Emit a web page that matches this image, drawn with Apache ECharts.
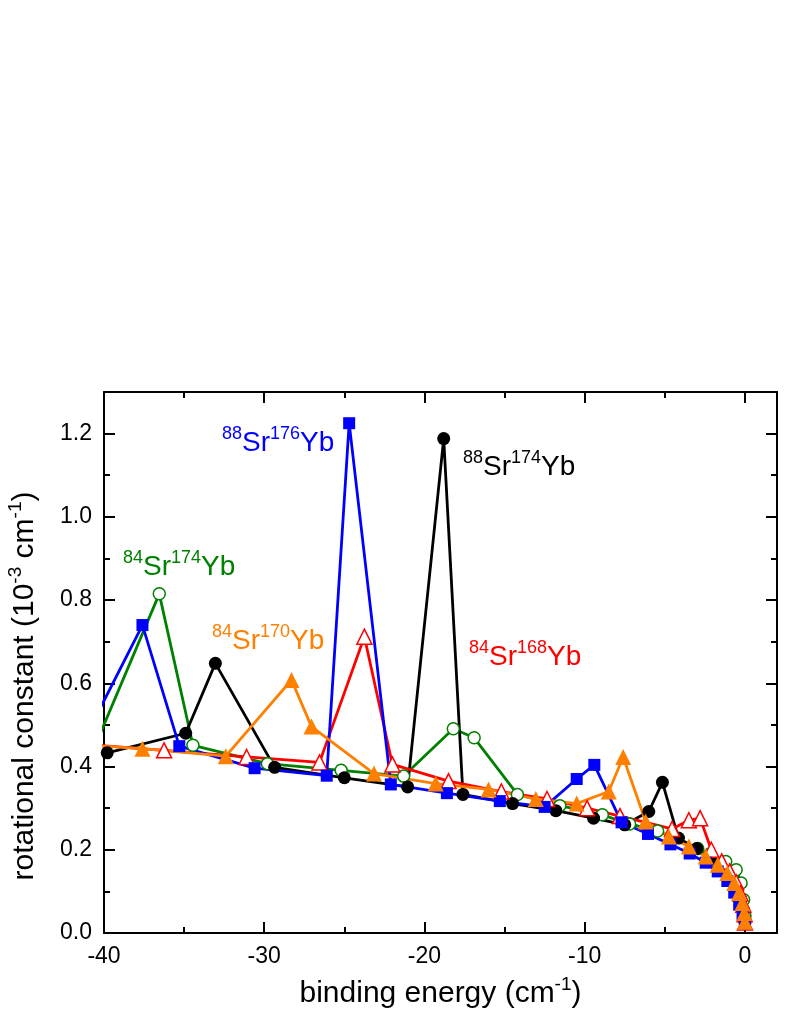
<!DOCTYPE html>
<html>
<head>
<meta charset="utf-8">
<script src="https://cdn.jsdelivr.net/npm/echarts@6/dist/echarts.min.js"></script>
<style>
  html, body { margin: 0; padding: 0; background: #fff; }
  #chart { width: 789px; height: 1021px; }
</style>
</head>
<body>
<div id="chart"></div>
<script>
const FONT = 'Liberation Sans, Arial, Helvetica, sans-serif'

// [binding energy (cm^-1), rotational constant (10^-3 cm^-1)]
const sr88yb176 = [
  [-41.3, 0.46], [-37.6, 0.740], [-35.3, 0.449], [-30.6, 0.396], [-26.1, 0.378],
  [-24.7, 1.225], [-22.1, 0.357], [-18.6, 0.336], [-15.3, 0.317], [-12.5, 0.303],
  [-10.5, 0.370], [-9.4, 0.404], [-7.7, 0.266], [-6.05, 0.238], [-4.65, 0.213],
  [-3.45, 0.191], [-2.45, 0.169], [-1.7, 0.148], [-1.1, 0.125], [-0.67, 0.097],
  [-0.36, 0.068], [-0.15, 0.044], [0, 0.023],
]
const sr88yb174 = [
  [-39.8, 0.433], [-34.9, 0.480], [-33.05, 0.648], [-29.35, 0.398], [-25.0, 0.373],
  [-21.05, 0.351], [-18.8, 1.188], [-17.6, 0.333], [-14.5, 0.311], [-11.8, 0.294],
  [-9.45, 0.276], [-7.5, 0.260], [-6.0, 0.292], [-5.15, 0.362], [-4.15, 0.228],
  [-3.0, 0.203], [-2.1, 0.178], [-1.4, 0.153], [-0.9, 0.130], [-0.5, 0.105],
  [-0.25, 0.080], [-0.08, 0.055], [0, 0.025],
]
const sr84yb174 = [
  [-40.5, 0.455], [-36.55, 0.815], [-34.45, 0.451], [-29.8, 0.407], [-25.2, 0.391],
  [-21.3, 0.377], [-18.2, 0.491], [-16.9, 0.469], [-14.2, 0.333], [-11.55, 0.306],
  [-8.9, 0.284], [-7.2, 0.262], [-5.45, 0.245], [-2.95, 0.203], [-2.2, 0.190],
  [-1.2, 0.172], [-0.55, 0.152], [-0.24, 0.120], [-0.08, 0.080], [0, 0.040],
]
const sr84yb170 = [
  [-41.5, 0.452], [-37.6, 0.443], [-32.4, 0.425], [-28.3, 0.608], [-27.05, 0.496],
  [-23.15, 0.383], [-19.3, 0.359], [-16.0, 0.345], [-13.05, 0.322], [-10.5, 0.311],
  [-8.5, 0.340], [-7.6, 0.423], [-6.2, 0.268], [-4.75, 0.232], [-3.5, 0.208],
  [-2.45, 0.184], [-1.7, 0.164], [-1.1, 0.144], [-0.67, 0.120], [-0.37, 0.096],
  [-0.16, 0.072], [-0.04, 0.048], [0, 0.027],
]
const sr84yb168 = [
  [-40.3, 0.451], [-36.25, 0.439], [-31.1, 0.423], [-26.55, 0.410], [-23.75, 0.712],
  [-22.0, 0.405], [-18.5, 0.365], [-15.2, 0.340], [-12.35, 0.322], [-9.85, 0.300],
  [-7.8, 0.281], [-4.55, 0.250], [-3.5, 0.271], [-2.8, 0.276], [-2.1, 0.200],
  [-1.45, 0.172], [-0.95, 0.148], [-0.55, 0.122], [-0.28, 0.095], [-0.1, 0.068],
  [-0.02, 0.045], [0, 0.025],
]

// series labels: [mass Sr, mass Yb]
const isotopes = {
  sr88yb176: ['88', '176'],
  sr88yb174: ['88', '174'],
  sr84yb174: ['84', '174'],
  sr84yb170: ['84', '170'],
  sr84yb168: ['84', '168'],
}

const X_MIN = -40, X_MAX = 2
const Y_MIN = 0, Y_MAX = 1.3

const chart = echarts.init(document.getElementById('chart'), null, { renderer: 'canvas' })

const rich = {
  m: { fontSize: 28, lineHeight: 36, fontFamily: FONT },
  s: { fontSize: 18, verticalAlign: 'top', fontFamily: FONT },
}
const richName = {
  m: { fontSize: 30, lineHeight: 38, fontFamily: FONT },
  s: { fontSize: 19, verticalAlign: 'top', fontFamily: FONT },
}

function ticks(len) {
  return { show: true, inside: true, length: len, lineStyle: { color: '#000', width: 2 } }
}

function xAxis(pos, interval, len, main) {
  return {
    type: 'value', position: pos, min: X_MIN, max: X_MAX, interval,
    axisLine: { show: main, onZero: false, lineStyle: { color: '#000', width: 2 } },
    axisTick: ticks(len),
    splitLine: { show: false },
    axisLabel: {
      show: main && pos === 'bottom', margin: 12,
      fontSize: 23, fontFamily: FONT, color: '#000',
      formatter: v => (v > 0 ? '' : String(v)),
    },
  }
}

function yAxis(pos, interval, len, main) {
  return {
    type: 'value', position: pos, min: Y_MIN, max: Y_MAX, interval,
    axisLine: { show: main, onZero: false, lineStyle: { color: '#000', width: 2 } },
    axisTick: ticks(len),
    splitLine: { show: false },
    axisLabel: {
      show: main && pos === 'left', margin: 12,
      fontSize: 23, fontFamily: FONT, color: '#000',
      formatter: v => (v > 1.25 ? '' : v.toFixed(1)),
    },
  }
}

function line(data, color, symbol, size, hollow) {
  return {
    type: 'line', data, symbol, symbolSize: size,
    showAllSymbol: true, clip: true,
    lineStyle: { color, width: 2.8 },
    itemStyle: hollow
      ? { color: '#fff', borderColor: color, borderWidth: 1.5 }
      : { color },
  }
}

function label(key, color, left, top) {
  const [a, b] = isotopes[key]
  return {
    type: 'text', left, top,
    style: { text: `{s|${a}}{m|Sr}{s|${b}}{m|Yb}`, fill: color, rich },
  }
}

const xs = [
  xAxis('bottom', 10, 11, true),
  xAxis('bottom', 5, 6, false),
  xAxis('top', 10, 11, true),
  xAxis('top', 5, 6, false),
]
xs[0].name = '{m|binding energy (cm}{s|-1}{m|)}'
xs[0].nameLocation = 'middle'
xs[0].nameGap = 42
xs[0].nameTextStyle = { color: '#000', rich: richName }

const ys = [
  yAxis('left', 0.2, 11, true),
  yAxis('left', 0.1, 6, false),
  yAxis('right', 0.2, 11, true),
  yAxis('right', 0.1, 6, false),
]

chart.setOption({
  animation: false,
  backgroundColor: '#fff',
  grid: { left: 104, right: 12, top: 392, bottom: 88, containLabel: false },
  xAxis: xs,
  yAxis: ys,
  series: [
    line(sr84yb174, '#008000', 'circle', 12, true),
    line(sr88yb174, '#000000', 'circle', 13, false),
    line(sr84yb168, '#ff0000', 'triangle', 15, true),
    line(sr88yb176, '#0000ff', 'rect', 12, false),
    line(sr84yb170, '#ff8000', 'triangle', 16, false),
  ],
  graphic: [
    label('sr88yb176', '#0000ff', 222, 425),
    label('sr88yb174', '#000000', 463, 449),
    label('sr84yb174', '#008000', 123, 549),
    label('sr84yb170', '#ff8000', 212, 623),
    label('sr84yb168', '#ff0000', 469, 639),
    {
      type: 'text', x: 25, y: 686, rotation: Math.PI / 2,
      style: {
        text: '{m|rotational constant (10}{s|-3}{m| cm}{s|-1}{m|)}',
        fill: '#000', rich: richName, align: 'center', verticalAlign: 'middle',
      },
    },
  ],
})
</script>
</body>
</html>
